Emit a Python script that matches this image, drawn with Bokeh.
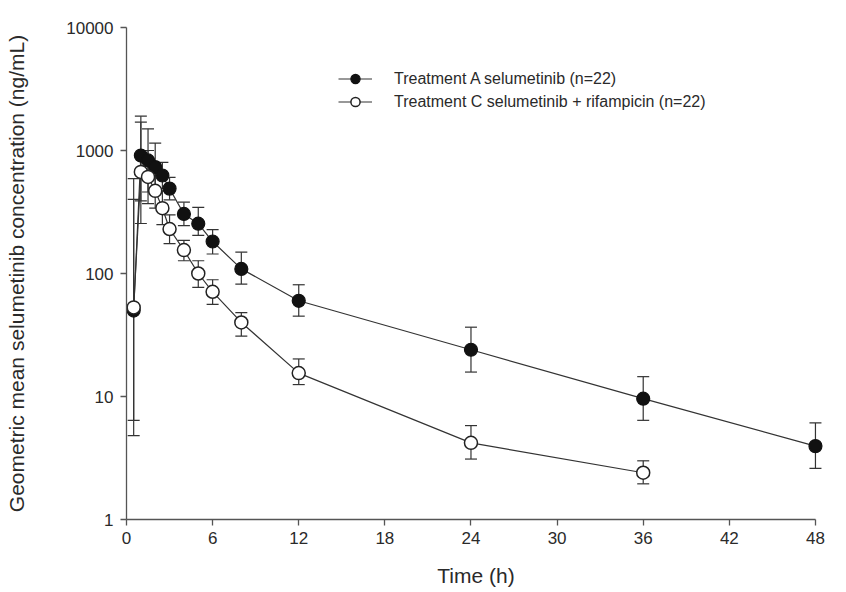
from bokeh.plotting import figure
from bokeh.models import (ColumnDataSource, Whisker, TeeHead, Legend, LegendItem,
                          FixedTicker, Range1d)
from bokeh.embed import file_html
from bokeh.resources import INLINE

# Data
time_a = [0.5, 1, 1.5, 2, 2.5, 3, 4, 5, 6, 8, 12, 24, 36, 48]
mean_a = [50, 910, 830, 733, 626, 490, 305, 254, 182, 109, 60, 24, 9.6, 3.95]
upper_a = [590, 1900, 1500, 1150, 800, 605, 380, 345, 227, 149, 81, 36.6, 14.5, 6.1]
lower_a = [4.8, 390, 460, 467, 490, 397, 245, 204, 144, 82, 45, 15.8, 6.4, 2.6]

time_c = [0.5, 1, 1.5, 2, 2.5, 3, 4, 5, 6, 8, 12, 24, 36]
mean_c = [53, 670, 610, 470, 340, 230, 155, 100, 71, 40, 15.5, 4.2, 2.4]
upper_c = [400, 1700, 1000, 650, 470, 300, 186, 127, 89, 48, 20.2, 5.8, 3.0]
lower_c = [6.4, 255, 370, 340, 250, 175, 127, 77, 56, 31, 12.5, 3.1, 1.95]

x_ticks = [0, 6, 12, 18, 24, 30, 36, 42, 48]
y_ticks = [1, 10, 100, 1000, 10000]
y_tick_labels = ["1", "10", "100", "1000", "10000"]
label_a = "Treatment A selumetinib (n=22)"
label_c = "Treatment C selumetinib + rifampicin (n=22)"

FONT = "Liberation Sans"
AXIS_COLOR = "#555555"
TEXT_COLOR = "#2a2a2a"
LINE_COLOR = "#333333"

p = figure(width=846, height=592, y_axis_type="log",
           x_range=Range1d(0, 48.7), y_range=Range1d(1, 10000),
           output_backend="svg", toolbar_location=None,
           min_border_left=126, min_border_right=21,
           min_border_top=27, min_border_bottom=73)
p.outline_line_color = None
p.grid.visible = False
p.background_fill_color = "white"
p.border_fill_color = "white"

src_a = ColumnDataSource(dict(t=time_a, m=mean_a, hi=upper_a, lo=lower_a))
src_c = ColumnDataSource(dict(t=time_c, m=mean_c, hi=upper_c, lo=lower_c))

for src in (src_a, src_c):
    w = Whisker(base="t", upper="hi", lower="lo", source=src, dimension="height",
                line_color=LINE_COLOR, line_width=1.2, level="underlay",
                upper_head=TeeHead(size=12, line_color=LINE_COLOR, line_width=1.2),
                lower_head=TeeHead(size=12, line_color=LINE_COLOR, line_width=1.2))
    p.add_layout(w)

la = p.line("t", "m", source=src_a, line_color=LINE_COLOR, line_width=1.2)
lc = p.line("t", "m", source=src_c, line_color=LINE_COLOR, line_width=1.2)
sa = p.scatter("t", "m", source=src_a, size=13, fill_color="#111111",
               line_color="#111111", line_width=1.2)
sc = p.scatter("t", "m", source=src_c, size=13, fill_color="white",
               line_color="#222222", line_width=1.5)

legend = Legend(items=[LegendItem(label=label_a, renderers=[la, sa]),
                       LegendItem(label=label_c, renderers=[lc, sc])],
                location=(212, 406), margin=0, padding=0, spacing=0,
                glyph_width=34, glyph_height=23, label_height=23,
                label_standoff=22, border_line_color=None,
                background_fill_alpha=0,
                label_text_font=FONT, label_text_font_size="16px",
                label_text_color=TEXT_COLOR)
p.add_layout(legend)

p.xaxis.ticker = FixedTicker(ticks=x_ticks)
p.xaxis.bounds = (0, 48)
p.yaxis.ticker = FixedTicker(ticks=y_ticks)
p.yaxis.major_label_overrides = {v: s for v, s in zip(y_ticks, y_tick_labels)}

for ax in (p.xaxis[0], p.yaxis[0]):
    ax.axis_line_color = AXIS_COLOR
    ax.axis_line_width = 1.3
    ax.major_tick_line_color = AXIS_COLOR
    ax.major_tick_line_width = 1.3
    ax.major_tick_in = 0
    ax.major_tick_out = 6
    ax.minor_tick_line_color = None
    ax.major_label_text_font = FONT
    ax.major_label_text_font_size = "17px"
    ax.major_label_text_color = TEXT_COLOR
    ax.axis_label_text_font = FONT
    ax.axis_label_text_font_size = "21px"
    ax.axis_label_text_font_style = "normal"
    ax.axis_label_text_color = TEXT_COLOR

p.xaxis.axis_label = "Time (h)"
p.yaxis.axis_label = "Geometric mean selumetinib concentration (ng/mL)"
p.yaxis.major_label_standoff = 7
p.xaxis.major_label_standoff = 6
p.yaxis.axis_label_standoff = 35
p.xaxis.axis_label_standoff = 17

open("out.html", "w").write(file_html(p, INLINE))
